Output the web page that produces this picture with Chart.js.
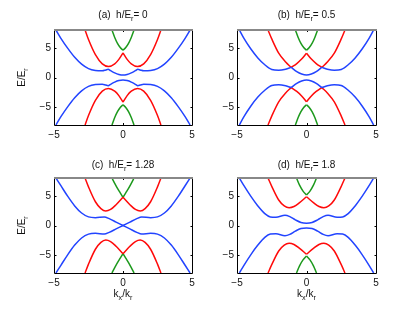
<!DOCTYPE html>
<html>
<head>
<meta charset="utf-8">
<script src="https://cdn.jsdelivr.net/npm/chart.js@4.4.1/dist/chart.umd.min.js"></script>
<style>
body{margin:0;background:#fff}
#fig{position:relative;width:415px;height:312px;background:#fff}
canvas{position:absolute}
</style>
</head>
<body>
<div id="fig">
<canvas id="pa" width="207" height="156" style="left:0;top:0"></canvas>
<canvas id="pb" width="208" height="156" style="left:207px;top:0"></canvas>
<canvas id="pc" width="207" height="156" style="left:0;top:156px"></canvas>
<canvas id="pd" width="208" height="156" style="left:207px;top:156px"></canvas>
</div>
<script>
// tick values
var kTicks = [-5, 0, 5];
var eTicks = [-5, 0, 5];

// (a) h/Er = 0
var aBlueK  = [-4.86,-4.5,-4,-3.5,-3,-2.5,-2,-1.5,-1.25,-1.08,-0.9,-0.6,-0.3,0,0.3,0.6,0.9,1.08,1.25,1.5,2,2.5,3,3.5,4,4.5,4.86];
var aBlueUp = [8,6.6,4.9,3.4,2.25,1.5,1.18,1.12,1.27,1.38,1.15,0.78,0.52,0.42,0.52,0.78,1.15,1.38,1.27,1.12,1.18,1.5,2.25,3.4,4.9,6.6,8];
var aBlueDn = [-8,-6.6,-4.9,-3.4,-2.25,-1.5,-1.18,-1.12,-1.27,-1.38,-1.15,-0.78,-0.52,-0.42,-0.52,-0.78,-1.15,-1.38,-1.27,-1.12,-1.18,-1.5,-2.25,-3.4,-4.9,-6.6,-8];
var aRedK   = [-2.75,-2.5,-2,-1.5,-1.05,-0.6,-0.3,0,0.3,0.6,1.05,1.5,2,2.5,2.75];
var aRedUp  = [8,6.4,3.85,2.3,1.85,2.3,3.05,4.15,3.05,2.3,1.85,2.3,3.85,6.4,8];
var aRedDn  = [-8,-6.4,-3.85,-2.3,-1.85,-2.3,-3.05,-4.15,-3.05,-2.3,-1.85,-2.3,-3.85,-6.4,-8];
var aGreenK  = [-0.8,-0.6,-0.4,-0.2,0,0.2,0.4,0.6,0.8];
var aGreenUp = [8,6.75,5.75,5.05,4.6,5.05,5.75,6.75,8];
var aGreenDn = [-8,-6.75,-5.75,-5.05,-4.6,-5.05,-5.75,-6.75,-8];

// (b) h/Er = 0.5
var bBlueK  = [-4.83,-4.5,-4,-3.5,-3,-2.5,-2,-1.5,-1.1,-0.7,-0.35,0,0.35,0.7,1.1,1.5,2,2.5,3,3.5,4,4.5,4.83];
var bBlueUp = [8,6.6,4.8,3.3,2.15,1.35,1.22,1.4,1.7,0.98,0.58,0.42,0.58,0.98,1.7,1.4,1.22,1.35,2.15,3.3,4.8,6.6,8];
var bBlueDn = [-8,-6.6,-4.8,-3.3,-2.15,-1.35,-1.22,-1.4,-1.7,-0.98,-0.58,-0.42,-0.58,-0.98,-1.7,-1.4,-1.22,-1.35,-2.15,-3.3,-4.8,-6.6,-8];
var bRedK   = [-2.77,-2.5,-2,-1.5,-1.1,-0.7,-0.35,0,0.35,0.7,1.1,1.5,2,2.5,2.77];
var bRedUp  = [8,6.5,4.1,2.6,1.7,2.35,3.1,4.1,3.1,2.35,1.7,2.6,4.1,6.5,8];
var bRedDn  = [-8,-6.5,-4.1,-2.6,-1.7,-2.35,-3.1,-4.1,-3.1,-2.35,-1.7,-2.6,-4.1,-6.5,-8];
var bGreenK  = [-0.8,-0.6,-0.4,-0.2,0,0.2,0.4,0.6,0.8];
var bGreenUp = [8,6.75,5.75,5.05,4.6,5.05,5.75,6.75,8];
var bGreenDn = [-8,-6.75,-5.75,-5.05,-4.6,-5.05,-5.75,-6.75,-8];

// (c) h/Er = 1.28
var cBlueK  = [-4.86,-4.5,-4,-3.5,-3,-2.5,-2,-1.35,-1,-0.5,0,0.5,1,1.35,2,2.5,3,3.5,4,4.5,4.86];
var cBlueUp = [8,6.7,4.9,3.3,2.1,1.45,1.32,1.45,1.15,0.58,0,-0.58,-1.15,-1.45,-1.32,-1.45,-2.1,-3.3,-4.9,-6.7,-8];
var cBlueDn = [-8,-6.7,-4.9,-3.3,-2.1,-1.45,-1.32,-1.45,-1.15,-0.58,0,0.58,1.15,1.45,1.32,1.45,2.1,3.3,4.9,6.7,8];
var cRedK   = [-2.75,-2.5,-2,-1.6,-1.25,-0.9,-0.5,0,0.5,0.9,1.25,1.6,2,2.5,2.75];
var cRedUp  = [8,6.5,4,2.85,2.45,2.7,3.5,4.75,3.5,2.7,2.45,2.85,4,6.5,8];
var cRedDn  = [-8,-6.5,-4,-2.85,-2.45,-2.7,-3.5,-4.75,-3.5,-2.7,-2.45,-2.85,-4,-6.5,-8];
var cGreenK  = [-0.8,-0.6,-0.4,-0.2,0,0.2,0.4,0.6,0.8];
var cGreenUp = [8,7.1,6.25,5.5,4.75,5.5,6.25,7.1,8];
var cGreenDn = [-8,-7.1,-6.25,-5.5,-4.75,-5.5,-6.25,-7.1,-8];

// (d) h/Er = 1.8
var dBlueK  = [-4.83,-4.5,-4,-3.5,-3,-2.6,-2.2,-1.55,-1.2,-0.8,-0.4,0,0.4,0.8,1.2,1.55,2.2,2.6,3,3.5,4,4.5,4.83];
var dBlueUp = [8,6.7,4.9,3.3,2,1.45,1.4,1.72,1.5,0.95,0.52,0.4,0.52,0.95,1.5,1.72,1.4,1.45,2,3.3,4.9,6.7,8];
var dBlueDn = [-8,-6.7,-4.9,-3.3,-2,-1.45,-1.4,-1.72,-1.5,-0.95,-0.52,-0.4,-0.52,-0.95,-1.5,-1.72,-1.4,-1.45,-2,-3.3,-4.9,-6.7,-8];
var dRedK   = [-2.77,-2.5,-2,-1.6,-1.25,-0.9,-0.5,0,0.5,0.9,1.25,1.6,2,2.5,2.77];
var dRedUp  = [8,6.6,4.3,3.3,3,3.2,3.85,4.85,3.85,3.2,3,3.3,4.3,6.6,8];
var dRedDn  = [-8,-6.6,-4.3,-3.3,-3,-3.2,-3.85,-4.85,-3.85,-3.2,-3,-3.3,-4.3,-6.6,-8];
var dGreenK  = [-0.72,-0.5,-0.25,0,0.25,0.5,0.72];
var dGreenUp = [8,6.8,5.8,5.15,5.8,6.8,8];
var dGreenDn = [-8,-6.8,-5.8,-5.15,-5.8,-6.8,-8];

var FAM = '"Liberation Sans", Arial, sans-serif';
var BLUE = '#2244ff', RED = '#ff0a0a', GREEN = '#1c991c';

// split a curve into pieces at the given k values (kinks stay sharp)
function pieces(k, e, cuts) {
  var out = [], cur = [];
  for (var i = 0; i < k.length; i++) {
    cur.push({x: k[i], y: e[i]});
    if (cuts.indexOf(k[i]) >= 0 && i > 0 && i < k.length - 1) {
      out.push(cur);
      cur = [{x: k[i], y: e[i]}];
    }
  }
  out.push(cur);
  return out;
}

function curves(list) {
  var sets = [];
  list.forEach(function(c) {
    pieces(c[0], c[1], c[3] || []).forEach(function(p) {
      sets.push({data: p, borderColor: c[2], borderWidth: 1.5, pointRadius: 0,
        tension: 0.4, cubicInterpolationMode: 'monotone', fill: false});
    });
  });
  return sets;
}

function rich(ctx, parts, x, y, size) {
  var w = 0, i;
  for (i = 0; i < parts.length; i++) {
    ctx.font = (i % 2 ? size * 0.72 : size) + 'px ' + FAM;
    w += ctx.measureText(parts[i]).width;
  }
  var cx = x - w / 2;
  ctx.textAlign = 'left';
  ctx.textBaseline = 'middle';
  for (i = 0; i < parts.length; i++) {
    ctx.font = (i % 2 ? size * 0.72 : size) + 'px ' + FAM;
    ctx.fillText(parts[i], cx, y + (i % 2 ? size * 0.38 : 0));
    cx += ctx.measureText(parts[i]).width;
  }
}

function fmt(v) { return v < 0 ? '\u2212' + (-v) : '' + v; }

function panel(id, box, title, sets, ylab, xlab) {
  var cv = document.getElementById(id);
  var W = cv.width, H = cv.height;
  var deco = {
    id: 'deco' + id,
    afterDatasetsDraw: function(chart) {
      var ctx = chart.ctx, a = chart.chartArea;
      var xs = chart.scales.x, ys = chart.scales.y;
      ctx.save();
      ctx.strokeStyle = '#000';
      ctx.lineWidth = 1;
      ctx.beginPath();
      ctx.moveTo(a.left + 0.5, a.top);
      ctx.lineTo(a.left + 0.5, a.bottom + 0.5);
      ctx.lineTo(a.right + 0.5, a.bottom + 0.5);
      ctx.lineTo(a.right + 0.5, a.top);
      kTicks.forEach(function(v) {
        var px = Math.round(xs.getPixelForValue(v)) + 0.5;
        ctx.moveTo(px, a.bottom); ctx.lineTo(px, a.bottom - 2);
        ctx.moveTo(px, a.top); ctx.lineTo(px, a.top + 2);
      });
      eTicks.forEach(function(v) {
        var py = Math.round(ys.getPixelForValue(v)) + 0.5;
        ctx.moveTo(a.left, py); ctx.lineTo(a.left + 2.5, py);
        ctx.moveTo(a.right + 1, py); ctx.lineTo(a.right - 1.5, py);
      });
      ctx.stroke();
      ctx.fillStyle = '#888';
      ctx.fillRect(a.left, a.top - 1, a.right - a.left + 1, 2);
      ctx.fillStyle = '#111';
      rich(ctx, title, (a.left + a.right) / 2, box.ty, 10);
      if (ylab) {
        ctx.save();
        ctx.translate(22, (a.top + a.bottom) / 2);
        ctx.rotate(-Math.PI / 2);
        rich(ctx, ['E/E', 'r', ''], 0, 0, 10);
        ctx.restore();
      }
      if (xlab) rich(ctx, ['k', 'x', '/k', 'r', ''], (a.left + a.right) / 2, box.xy, 10);
      ctx.restore();
    }
  };
  return new Chart(cv, {
    type: 'line',
    data: {datasets: sets},
    plugins: [deco],
    options: {
      responsive: false,
      animation: false,
      events: [],
      layout: {padding: {left: 0, top: box.t, right: W - box.r, bottom: 0}},
      plugins: {legend: {display: false}, tooltip: {enabled: false}, title: {display: false}},
      scales: {
        x: {
          type: 'linear', min: -5, max: 5,
          grid: {display: false, drawTicks: false},
          border: {display: false},
          afterBuildTicks: function(s) { s.ticks = kTicks.map(function(v) { return {value: v}; }); },
          afterFit: function(s) { s.height = H - box.b; },
          ticks: {padding: 4, color: '#111', maxRotation: 0, autoSkip: false,
                  font: {family: FAM, size: 10}, callback: fmt}
        },
        y: {
          type: 'linear', min: -8, max: 8,
          grid: {display: false, drawTicks: false},
          border: {display: false},
          afterBuildTicks: function(s) { s.ticks = eTicks.map(function(v) { return {value: v}; }); },
          afterFit: function(s) { s.width = box.l; },
          ticks: {padding: 3, color: '#111', autoSkip: false,
                  font: {family: FAM, size: 10}, callback: fmt}
        }
      }
    }
  });
}

panel('pa', {l: 54, r: 192, t: 30, b: 125, ty: 15}, ['(a)  h/E', 'r', '= 0'], curves([
  [aBlueK, aBlueUp, BLUE], [aBlueK, aBlueDn, BLUE],
  [aRedK, aRedUp, RED, [0]], [aRedK, aRedDn, RED, [0]],
  [aGreenK, aGreenUp, GREEN, [0]], [aGreenK, aGreenDn, GREEN, [0]]
]), true, false);

panel('pb', {l: 30, r: 169, t: 30, b: 125, ty: 15}, ['(b)  h/E', 'r', '= 0.5'], curves([
  [bBlueK, bBlueUp, BLUE, [-1.1, 1.1]], [bBlueK, bBlueDn, BLUE, [-1.1, 1.1]],
  [bRedK, bRedUp, RED, [-1.1, 0, 1.1]], [bRedK, bRedDn, RED, [-1.1, 0, 1.1]],
  [bGreenK, bGreenUp, GREEN, [0]], [bGreenK, bGreenDn, GREEN, [0]]
]), false, false);

panel('pc', {l: 54, r: 192, t: 22, b: 117, ty: 9, xy: 138}, ['(c)  h/E', 'r', '= 1.28'], curves([
  [cBlueK, cBlueUp, BLUE], [cBlueK, cBlueDn, BLUE],
  [cRedK, cRedUp, RED, [0]], [cRedK, cRedDn, RED, [0]],
  [cGreenK, cGreenUp, GREEN, [0]], [cGreenK, cGreenDn, GREEN, [0]]
]), true, true);

panel('pd', {l: 30, r: 169, t: 22, b: 117, ty: 9, xy: 138}, ['(d)  h/E', 'r', '= 1.8'], curves([
  [dBlueK, dBlueUp, BLUE], [dBlueK, dBlueDn, BLUE],
  [dRedK, dRedUp, RED, [0]], [dRedK, dRedDn, RED, [0]],
  [dGreenK, dGreenUp, GREEN, [0]], [dGreenK, dGreenDn, GREEN, [0]]
]), false, true);
</script>
</body>
</html>
